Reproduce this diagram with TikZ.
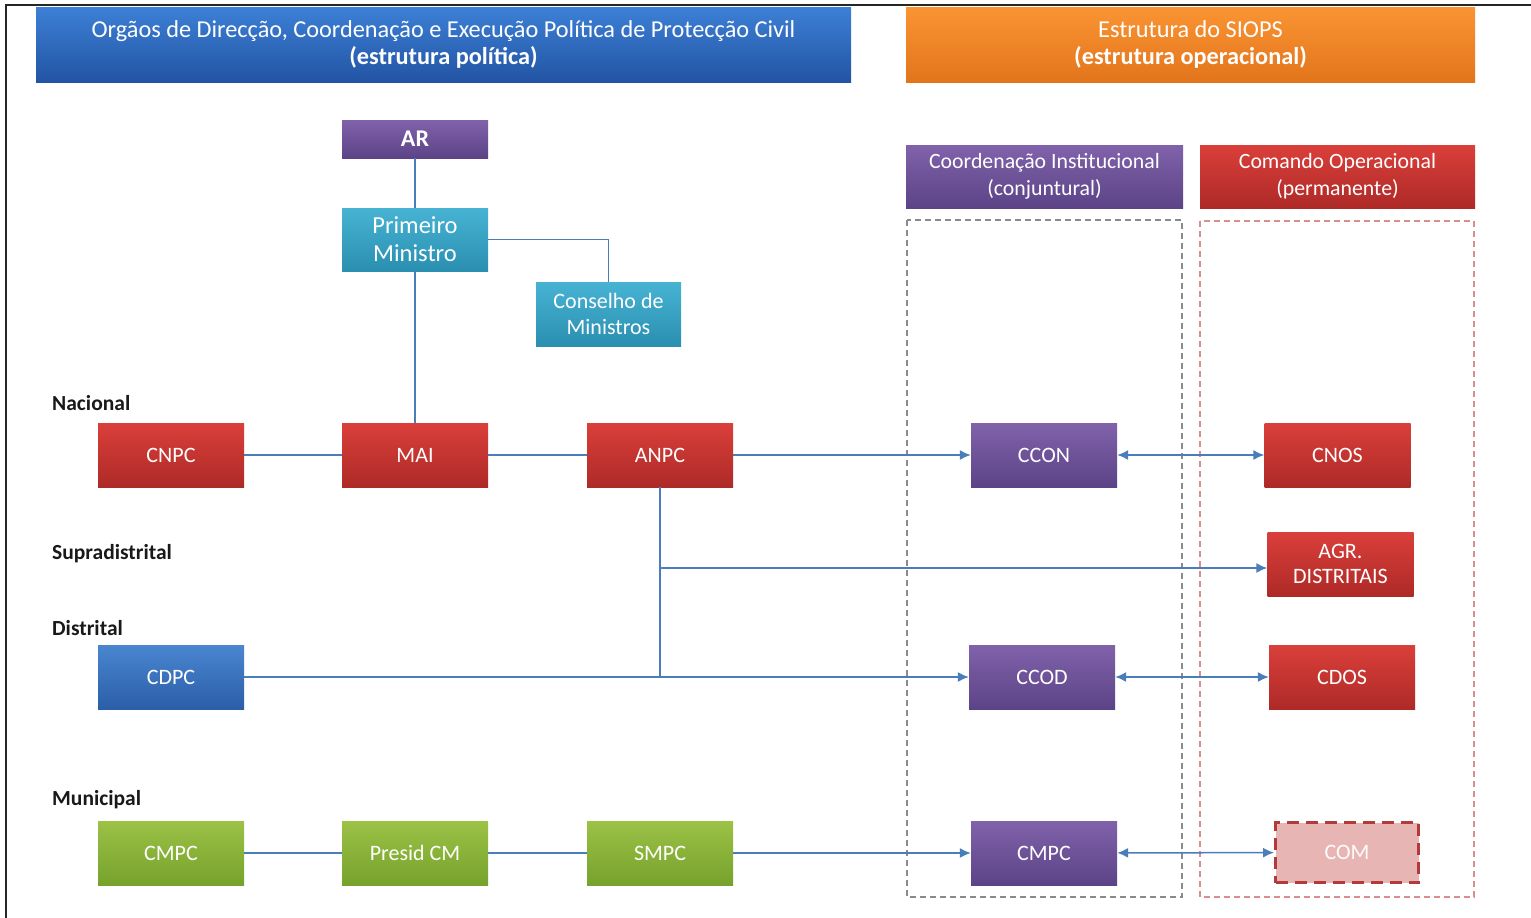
\documentclass[tikz,border=0pt]{standalone}
\usepackage{fontspec}
\setmainfont{Carlito}
\usetikzlibrary{arrows.meta,calc}
\definecolor{lnblue}{HTML}{4A7EBB}
\definecolor{redT}{HTML}{DA3F3A}\definecolor{redB}{HTML}{AE2A27}
\definecolor{purT}{HTML}{8062AA}\definecolor{purB}{HTML}{5C4386}
\definecolor{cyaT}{HTML}{47B3D3}\definecolor{cyaB}{HTML}{2A8FB0}
\definecolor{grnT}{HTML}{9CC246}\definecolor{grnB}{HTML}{76A22C}
\definecolor{bluT}{HTML}{4A86D0}\definecolor{bluB}{HTML}{2B5EA8}
\definecolor{banT}{HTML}{3C80D6}\definecolor{banB}{HTML}{2354A3}
\definecolor{orgT}{HTML}{FA9433}\definecolor{orgB}{HTML}{E2751B}
\definecolor{comfill}{HTML}{E8B5B5}\definecolor{comedge}{HTML}{B33A3A}
\definecolor{dashgray}{HTML}{8A8A8A}\definecolor{dashred}{HTML}{D98F8F}
\begin{document}
\begin{tikzpicture}[x=1pt,y=-1pt,
  box/.style={minimum width=146pt,minimum height=64pt,inner sep=0pt,text=white,align=center,
     font=\fontsize{22}{25}\selectfont},
  redbox/.style={box,top color=redT,bottom color=redB},
  purbox/.style={box,top color=purT,bottom color=purB},
  cyabox/.style={box,top color=cyaT,bottom color=cyaB,font=\fontsize{24.5}{28}\selectfont},
  grnbox/.style={box,top color=grnT,bottom color=grnB},
  blubox/.style={box,top color=bluT,bottom color=bluB},
  banner/.style={minimum height=75pt,inner sep=0pt,text=white,align=center,
     font=\fontsize{24.3}{27}\selectfont},
  colhead/.style={minimum height=63pt,inner sep=0pt,text=white,align=center,
     font=\fontsize{21.8}{27}\selectfont},
  lvl/.style={anchor=west,inner sep=0pt,text=black!90,font=\bfseries\fontsize{21.5}{24}\selectfont},
  link/.style={draw=lnblue,line width=2.2pt},
  arr/.style={draw=lnblue,line width=1.5pt,-{Latex[length=11pt,width=10pt]}},
  darr/.style={draw=lnblue,line width=1.5pt,{Latex[length=11pt,width=10pt]}-{Latex[length=11pt,width=10pt]}},
]
\useasboundingbox (0,0) rectangle (1531,918);
\fill[white] (0,0) rectangle (1531,918);
% frame
\draw[black!85,line width=1.5pt] (6,918) -- (6,5) -- (1531,5);
% banners
\node[banner,minimum width=815pt,top color=banT,bottom color=banB] (ban1) at (443.5,44.5)
  {Orgãos de Direcção, Coordenação e Execução Política de Protecção Civil\\\textbf{(estrutura política)}};
\node[banner,minimum width=569pt,top color=orgT,bottom color=orgB] (ban2) at (1190.5,44.5)
  {Estrutura do SIOPS\\\textbf{(estrutura operacional)}};
% column headers
\node[colhead,minimum width=277pt,top color=purT,bottom color=purB] (hcoord) at (1044.5,176.5)
  {Coordenação Institucional\\(conjuntural)};
\node[colhead,minimum width=275pt,top color=redT,bottom color=redB] (hcom) at (1337.5,176.5)
  {Comando Operacional\\(permanente)};
% dashed areas
\draw[dashgray,line width=1.5pt,dash pattern=on 6pt off 4pt] (907,220) rectangle (1182,897);
\draw[dashred,line width=1.5pt,dash pattern=on 6pt off 4pt] (1200,221) rectangle (1474,897);
% level labels
\node[lvl] (lnac) at (52,403) {Nacional};
\node[lvl] (lsup) at (52,554) {Supradistrital};
\node[lvl] (ldis) at (52,628) {Distrital};
\node[lvl] (lmun) at (52,800) {Municipal};
% political nodes
\node[purbox,minimum height=38pt,font=\bfseries\fontsize{24}{26}\selectfont] (AR) at (415,139) {AR};
\node[cyabox,minimum height=63pt] (PM) at (415,239.5) {Primeiro\\Ministro};
\node[cyabox,minimum width=145pt,font=\fontsize{22}{26}\selectfont] (CM) at (608.5,314) {Conselho de\\Ministros};
\node[redbox] (CNPC) at (171,455) {CNPC};
\node[redbox] (MAI) at (415,455) {MAI};
\node[redbox] (ANPC) at (660,455) {ANPC};
\node[blubox] (CDPC) at (171,677) {CDPC};
\node[grnbox] (CMPCg) at (171,853) {CMPC};
\node[grnbox] (PCM) at (415,853) {Presid CM};
\node[grnbox] (SMPC) at (660,853) {SMPC};
% operational nodes
\node[purbox] (CCON) at (1044,455) {CCON};
\node[purbox] (CCOD) at (1042,677) {CCOD};
\node[purbox] (CMPCp) at (1044,853) {CMPC};
\node[redbox] (CNOS) at (1337.5,455) {CNOS};
\node[redbox] (AGR) at (1340.5,564) {AGR.\\DISTRITAIS};
\node[redbox] (CDOS) at (1342,677) {CDOS};
\node[box,fill=comfill,draw=comedge,line width=3pt,dash pattern=on 12pt off 7pt,minimum width=143pt,minimum height=60pt,text=white!95!comfill] (COM) at (1347,852.5) {COM};
% political connectors
\draw[link] (AR) -- (PM);
\draw[link] (PM) -- (MAI);
\draw[link,line width=1.5pt] (PM.east) -| (CM.north);
\draw[link] (CNPC) -- (MAI);
\draw[link] (MAI) -- (ANPC);
\draw[link] (CMPCg) -- (PCM);
\draw[link] (PCM) -- (SMPC);
\coordinate (junc) at (ANPC.south |- CDPC.east);
\draw[link] (ANPC.south) -- (junc);
% arrows to operational
\draw[arr] (ANPC) -- (CCON);
\coordinate (agrin) at ($(AGR.west)+(0,4)$);
\draw[arr] (ANPC.south |- agrin) -- (agrin);
\draw[arr] (CDPC) -- (CCOD);
\draw[arr] (SMPC) -- (CMPCp);
\draw[darr] (CCON) -- (CNOS);
\draw[darr] (CCOD) -- (CDOS);
\draw[darr] (CMPCp) -- (COM);
\end{tikzpicture}
\end{document}
